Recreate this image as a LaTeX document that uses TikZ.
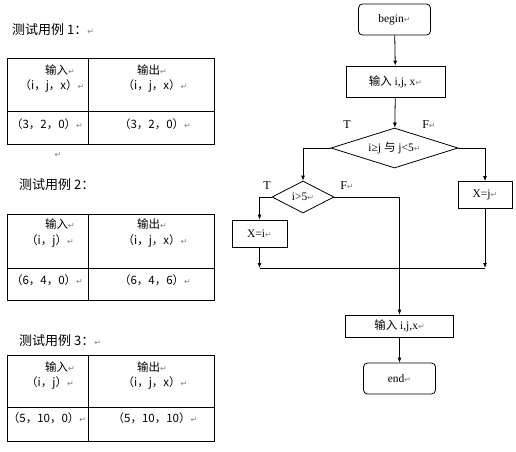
\documentclass[tikz,border=0pt]{standalone}
\usepackage{fontspec}
\setmainfont{Liberation Serif}
\newfontfamily\cjk{Noto Sans CJK SC}
\newfontfamily\symf{DejaVu Sans}
\usetikzlibrary{shapes.geometric,arrows.meta}
\newcommand{\ret}{{\symf\color{gray}\footnotesize ↵}}
\tikzset{
  proc/.style={draw, line width=0.8pt, inner sep=0pt, font=\fontsize{11.5}{13}\selectfont},
  term/.style={proc, rounded corners=4pt},
  decision/.style={draw, line width=0.8pt, diamond, aspect=2, inner sep=0pt, font=\fontsize{11.5}{13}\selectfont},
  arr/.style={line width=0.8pt, -{Latex[length=5pt,width=4pt]}},
  tab/.style={line width=1pt},
  cell/.style={font=\cjk\fontsize{11.5}{13}\selectfont, inner sep=0pt},
  title/.style={font=\cjk\fontsize{13}{15}\selectfont, anchor=west, inner sep=0pt}
}
\begin{document}
\begin{tikzpicture}[x=1pt,y=-1pt]
\useasboundingbox (0,0) rectangle (516,451);

% Test case 1
\node[title] (t1) at (12,30) {测试用例 1：\ret};
\draw[tab] (7,58) rectangle (214,144);
\draw[tab] (88,58) -- (88,144);
\draw[tab] (7,111) -- (214,111);
\node[cell] (in1) at (60,70) {输入\ret};
\node[cell] (iv1) at (52,86) {（i，j，x）\ret};
\node[cell] (out1) at (152,70) {输出\ret};
\node[cell] (ov1) at (155,86) {（i，j，x）\ret};
\node[cell] (r1a) at (47,124) {（3，2，0）\ret};
\node[cell] (r1b) at (155,124) {（3，2，0）\ret};
\node (p1) at (58,155) {\ret};

% Test case 2
\node[title] (t2) at (19,185) {测试用例 2：};
\draw[tab] (7,214) rectangle (214,300);
\draw[tab] (88,214) -- (88,300);
\draw[tab] (7,268) -- (214,268);
\node[cell] (in2) at (60,224) {输入\ret};
\node[cell] (iv2) at (50,241) {（i，j）\ret};
\node[cell] (out2) at (152,224) {输出\ret};
\node[cell] (ov2) at (155,241) {（i，j，x）\ret};
\node[cell] (r2a) at (47,280) {（6，4，0）\ret};
\node[cell] (r2b) at (155,280) {（6，4，6）\ret};

% Test case 3
\node[title] (t3) at (19,341) {测试用例 3：\ret};
\draw[tab] (7,355) rectangle (214,441);
\draw[tab] (88,355) -- (88,441);
\draw[tab] (7,407) -- (214,407);
\node[cell] (in3) at (60,367) {输入\ret};
\node[cell] (iv3) at (50,383) {（i，j）\ret};
\node[cell] (out3) at (152,367) {输出\ret};
\node[cell] (ov3) at (155,383) {（i，j，x）\ret};
\node[cell] (r3a) at (47,418) {（5，10，0）\ret};
\node[cell] (r3b) at (155,418) {（5，10，10）\ret};

% Flowchart
\node[term, minimum width=72pt, minimum height=31pt] (begin) at (394.5,19.5) {begin\ret};
\node[proc, minimum width=99pt, minimum height=31pt] (inp) at (395.5,81.5) {{\cjk 输入} i,j, x\ret};
\node[decision, minimum width=127pt, minimum height=40pt] (cond1) at (394.5,148) {i≥j {\cjk 与} j<5\ret};
\node[decision, minimum width=62pt, minimum height=32pt] (cond2) at (303,197) {i>5\ret};
\node[proc, minimum width=55pt, minimum height=27pt] (xi) at (259.5,233.5) {X=i\ret};
\node[proc, minimum width=54pt, minimum height=27pt] (xj) at (485,195) {X=j\ret};
\node[proc, minimum width=108pt, minimum height=22pt] (out) at (399.5,326) {{\cjk 输入} i,j,x\ret};
\node[term, minimum width=72pt, minimum height=31pt] (stop) at (399.5,378.5) {end\ret};
\coordinate (mL) at (259.5,268);
\coordinate (mR) at (485,268);

% Labels
\node[font=\fontsize{12}{13}\selectfont] (T1) at (347,125) {T};
\node[font=\fontsize{12}{13}\selectfont] (F1) at (429,125) {F\ret};
\node[font=\fontsize{12}{13}\selectfont] (T2) at (267,186) {T};
\node[font=\fontsize{12}{13}\selectfont] (F2) at (347,186) {F\ret};

% Connectors
\draw[arr] (begin) -- (inp);
\draw[arr] (inp) -- (cond1);
\draw[arr] (cond1.west) -| (cond2.north);
\draw[arr] (cond1.east) -| (xj.north);
\draw[arr] (cond2.west) -| (xi.north);
\draw[arr] (cond2.east) -| (out.north);
\draw[arr] (xi) -- (mL);
\draw[arr] (xj) -- (mR);
\draw[line width=0.8pt] (mL) -- (mR);
\draw[arr] (out) -- (stop);
\end{tikzpicture}
\end{document}
